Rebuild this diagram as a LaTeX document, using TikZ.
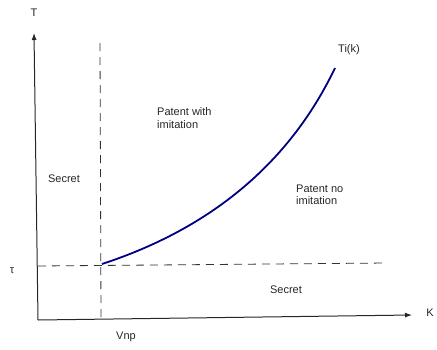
\documentclass[tikz,border=0pt]{standalone}
\usepackage{fontspec}
\setmainfont{Liberation Sans}
\usetikzlibrary{arrows.meta}
\begin{document}
\begin{tikzpicture}[x=1pt,y=-1pt,
  lbl/.style={font=\fontsize{11}{12.5}\selectfont, inner sep=0pt, text=black!85},
  axis/.style={draw=black!85, line width=1pt, -{Latex[length=7pt,width=5pt]}},
  guide/.style={draw=black!80, line width=0.8pt, dash pattern=on 8pt off 6pt},
  curve/.style={draw=blue!50!black, line width=1.8pt}]
\useasboundingbox (0,0) rectangle (437,349);
\coordinate (O) at (38,320);
\coordinate (Ttip) at (34,33);
\coordinate (Ktip) at (412,315);
\coordinate (Vtop) at (100,43);
\coordinate (Vbot) at (101,320);
\coordinate (tauL) at (38,266);
\coordinate (tauR) at (387,263);
\coordinate (c0) at (102,264);
\coordinate (c1) at (335,68);
\draw[axis] (O) -- (Ttip);
\draw[axis] (O) -- (Ktip);
\draw[guide] (Vtop) -- (Vbot);
\draw[guide] (tauL) -- (tauR);
\draw[curve] (c0) .. controls (212,228) and (290,162) .. (c1);
\node[lbl] (T) at (34,13) {T};
\node[lbl] (K) at (430,313) {K};
\node[lbl] (tau) at (12,271) {τ};
\node[lbl] (vnp) at (126,337) {Vnp};
\node[lbl] (ti) at (349,50) {Ti(k)};
\node[lbl, anchor=west, align=left] (pw) at (157,118) {Patent with\\imitation};
\node[lbl] (s1) at (64,179) {Secret};
\node[lbl, anchor=west, align=left] (pn) at (296,195) {Patent no\\imitation};
\node[lbl] (s2) at (286,290) {Secret};
\end{tikzpicture}
\end{document}
